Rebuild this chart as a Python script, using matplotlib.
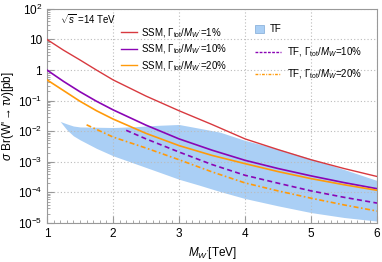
import numpy as np
import matplotlib
matplotlib.use("Agg")
import matplotlib.pyplot as plt
from matplotlib.lines import Line2D
from matplotlib.patches import Patch
from matplotlib.ticker import FixedLocator, NullFormatter

plt.rcParams['font.family'] = ['Liberation Sans', 'DejaVu Sans']
plt.rcParams['mathtext.fontset'] = 'custom'
plt.rcParams['mathtext.rm'] = 'Liberation Sans'
plt.rcParams['mathtext.it'] = 'Liberation Sans:italic'
plt.rcParams['mathtext.sf'] = 'Liberation Sans'

# --- data (cross section in pb vs W' mass in TeV) ---
m_ssm = [1.0, 1.25, 1.5, 1.75, 2.0, 2.5, 3.0, 3.5, 4.0, 4.5, 5.0, 5.5, 6.0]
ssm_1 = [10, 4.47, 2.14, 1.0, 0.479, 0.141, 0.0468, 0.0166, 0.00562, 0.00251, 0.00117,
         0.000603, 0.000331]
ssm_10 = [1.0, 0.427, 0.195, 0.0955, 0.0501, 0.0158, 0.00562, 0.0024, 0.00112, 0.000603,
          0.000347, 0.000209, 0.000132]
ssm_20 = [0.479, 0.214, 0.0955, 0.0468, 0.0251, 0.00851, 0.00339, 0.00162, 0.000871,
          0.000479, 0.000282, 0.000178, 0.000117]

m_tf10 = [2.2, 2.5, 3.0, 3.5, 4.0, 4.5, 5.0, 5.5, 6.0]
tf_10 = [0.0107, 0.00562, 0.00209, 0.000813, 0.000363, 0.0002, 0.000112, 6.9e-5, 4.47e-5]

m_tf20 = [1.6, 2.0, 2.5, 3.0, 3.5, 4.0, 4.5, 5.0, 5.5, 6.0]
tf_20 = [0.0162, 0.00646, 0.00282, 0.00117, 0.000468, 0.000204, 0.000112, 6.46e-5, 3.89e-5, 2.45e-5]

band_m = [1.2, 1.3, 1.4, 1.5, 1.75, 2.0, 2.35, 2.65, 3.0, 3.3, 3.62, 4.0, 4.5, 5.0, 5.5, 6.0]
band_hi = [0.0209, 0.0174, 0.0148, 0.0138, 0.0135, 0.0132, 0.0141, 0.0155, 0.0166, 0.0126,
           0.00933, 0.00501, 0.00263, 0.00126, 0.000562, 0.000245]
band_lo = [0.0209, 0.0112, 0.00708, 0.00525, 0.00275, 0.00158, 0.000851, 0.000501, 0.000269,
           0.000174, 0.000107, 6.3e-5, 3.63e-5, 2.19e-5, 1.51e-5, 1.15e-5]

y_ticks = [1e-5, 1e-4, 1e-3, 1e-2, 1e-1, 1, 10, 100]
y_labels = ['10$^{-5}$', '10$^{-4}$', '10$^{-3}$', '10$^{-2}$', '10$^{-1}$', '1', '10', '10$^{2}$']

RED = '#d8393f'
PURPLE = '#8a05b5'
ORANGE = '#ff9a0a'
BAND = '#aacff5'
FRAME = '#999999'

fig = plt.figure(figsize=(3.82, 2.62), dpi=100)
ax = fig.add_axes([0.123, 0.149, 0.864, 0.817])

ax.fill_between(band_m, band_lo, band_hi, color=BAND, lw=0, zorder=1)
ax.plot(m_ssm, ssm_1, color=RED, lw=1.0, zorder=3)
ax.plot(m_ssm, ssm_10, color=PURPLE, lw=1.2, zorder=3)
ax.plot(m_ssm, ssm_20, color=ORANGE, lw=1.2, zorder=3)
ax.plot(m_tf10, tf_10, color=PURPLE, lw=1.2, dashes=(3, 2), zorder=3)
ax.plot(m_tf20, tf_20, color=ORANGE, lw=1.2, dashes=(3, 1.5, 1, 1.5), zorder=3)

ax.set_yscale('log')
ax.set_xlim(1, 6)
ax.set_ylim(1e-5, 1e2)
ax.set_xticks([1, 2, 3, 4, 5, 6])
ax.xaxis.set_minor_locator(FixedLocator(np.arange(1, 6.01, 0.1)))
ax.set_yticks(y_ticks, y_labels)
ax.yaxis.set_minor_formatter(NullFormatter())
ax.tick_params(which='both', direction='in', color=FRAME, labelsize=8.5, top=False, right=False)
ax.tick_params(which='major', length=5)
ax.tick_params(which='minor', length=2.5)
for s in ax.spines.values():
    s.set_color(FRAME)
ax.grid(True, which='major', ls=(0, (1, 2)), color='#bbbbbb', lw=0.8, zorder=0)

ax.set_xlabel(r"$M_{W'}$[TeV]", fontsize=8.5, labelpad=4)
ax.set_ylabel(r"$\sigma$ Br(W'$\rightarrow\tau\nu$)[pb]", fontsize=8.5, labelpad=1)

ax.text(0.04, 0.983, r"$\sqrt{s}$ =14 TeV", transform=ax.transAxes, fontsize=7, va='top')

ssm_handles = [Line2D([], [], color=c, lw=1.0) for c in (RED, PURPLE, ORANGE)]
ssm_labels = [r"SSM, $\Gamma_{\rm tot}/M_{W'}$=1%", r"SSM, $\Gamma_{\rm tot}/M_{W'}$=10%",
              r"SSM, $\Gamma_{\rm tot}/M_{W'}$=20%"]
leg1 = ax.legend(ssm_handles, ssm_labels, loc='upper left', bbox_to_anchor=(0.225, 0.92),
                 frameon=False, fontsize=7, handlelength=1.6, handletextpad=0.4,
                 labelspacing=0.3, borderpad=0, borderaxespad=0)
ax.add_artist(leg1)

leg2 = ax.legend([Patch(facecolor=BAND, edgecolor='#7fa9d6', lw=0.5)], ['TF'], loc='upper left',
                 bbox_to_anchor=(0.63, 0.93), frameon=False, fontsize=7, handlelength=0.9,
                 handleheight=0.9, handletextpad=0.6, borderpad=0, borderaxespad=0)
ax.add_artist(leg2)

tf_handles = [Line2D([], [], color=PURPLE, lw=1.0, dashes=(2, 1)),
              Line2D([], [], color=ORANGE, lw=1.0, dashes=(2, 1, 0.7, 1))]
tf_labels = [r"TF, $\Gamma_{\rm tot}/M_{W}$=10%", r"TF, $\Gamma_{\rm tot}/M_{W}$=20%"]
ax.legend(tf_handles, tf_labels, loc='upper left', bbox_to_anchor=(0.63, 0.83),
          frameon=False, fontsize=7, handlelength=2.7, handletextpad=0.6,
          labelspacing=0.85, borderpad=0, borderaxespad=0)

fig.savefig('out.png', dpi=100)
